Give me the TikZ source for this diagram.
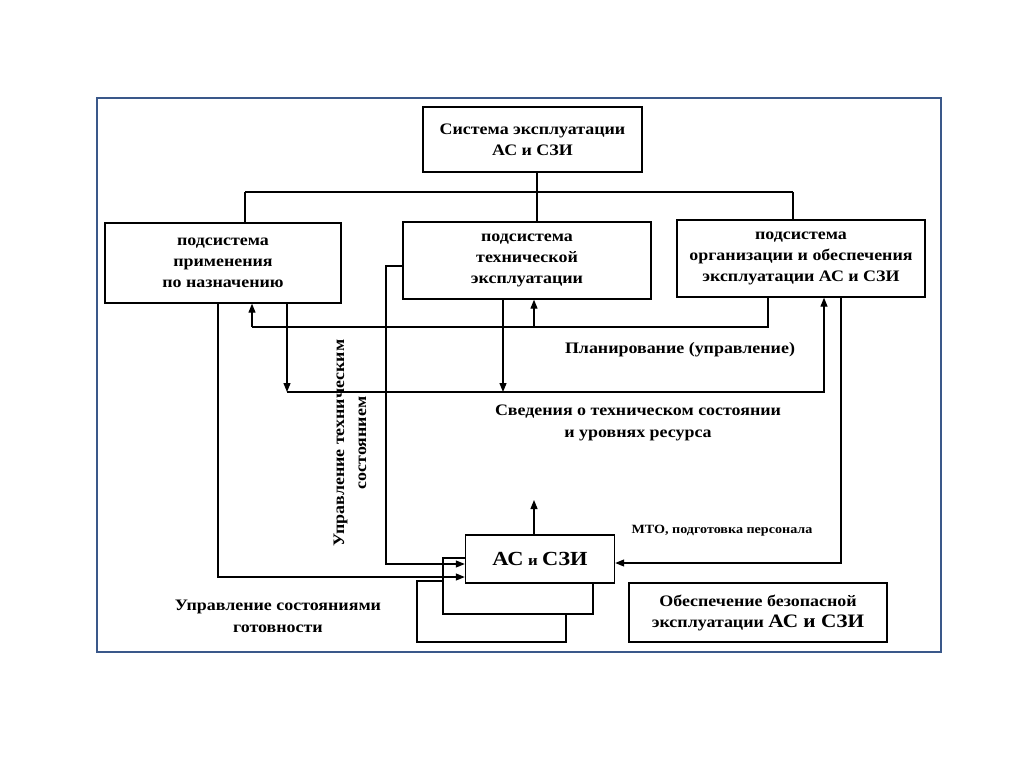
\documentclass[tikz,border=0pt]{standalone}
\usepackage{fontspec}
\setmainfont{Liberation Serif}[FakeStretch=1.12]
\usetikzlibrary{arrows.meta}
\definecolor{framec}{RGB}{58,88,138}
\tikzset{
  box/.style={draw=black,line width=1.4pt,fill=white,inner sep=0pt,align=center,font=\bfseries\fontsize{16}{21}\selectfont},
  lbl/.style={align=center,inner sep=0pt,font=\bfseries\fontsize{16}{22}\selectfont},
  con/.style={line width=1.2pt},
  arr/.style={line width=1.2pt,-{Triangle[length=9pt,width=7pt]}}
}
\begin{document}
\begin{tikzpicture}[x=1pt,y=-1pt]
\useasboundingbox (0,0) rectangle (1024,767);
\fill[white] (0,0) rectangle (1024,767);
\draw[framec,line width=2.6pt] (97,98) rectangle (941,652);
% boxes
\node[box,minimum width=219pt,minimum height=65pt] (top) at (532.5,139.5) {Система эксплуатации\\АС и СЗИ};
\node[box,minimum width=236pt,minimum height=80pt] (b1) at (223,263) {подсистема\\применения\\по назначению};
\node[box,minimum width=248pt,minimum height=77pt] (b2) at (527,260.5) {подсистема\\технической\\эксплуатации};
\node[box,minimum width=248pt,minimum height=77pt] (b3) at (801,258.5) {подсистема\\организации и обеспечения\\эксплуатации АС и СЗИ};
\node[box,minimum width=149pt,minimum height=61pt] (st3) at (491.5,611.5) {};
\node[box,minimum width=150pt,minimum height=56pt] (st2) at (518,586) {};
\node[box,minimum width=149pt,minimum height=48pt] (as) at (540,559) {{\fontsize{20}{22}\selectfont АС} {\fontsize{15}{17}\selectfont и} {\fontsize{20}{22}\selectfont СЗИ}};
\node[box,minimum width=258pt,minimum height=59pt] (safe) at (758,612.5) {Обеспечение безопасной\\эксплуатации {\fontsize{19}{21}\selectfont АС и СЗИ}};
% tree
\coordinate (jt) at (537,192);
\coordinate (j1) at (245,192);
\coordinate (j3) at (793,192);
\draw[con] (top.south -| jt) -- (jt);
\draw[con] (j1) -- (j3);
\draw[con] (j1) -- (j1 |- b1.north);
\draw[con] (jt) -- (jt |- b2.north);
\draw[con] (j3) -- (j3 |- b3.north);
% planning
\coordinate (p3) at (768,327);
\coordinate (p1) at (252,327);
\coordinate (p2) at (534,327);
\draw[con] (p3 |- b3.south) -- (p3) -- (p1);
\draw[arr] (p1) -- (p1 |- b1.south);
\draw[arr] (p2) -- (p2 |- b2.south);
% info
\coordinate (s1) at (287,392);
\coordinate (s2) at (503,392);
\coordinate (s3) at (824,392);
\draw[arr] (s1 |- b1.south) -- (s1);
\draw[arr] (s2 |- b2.south) -- (s2);
\draw[arr] (s1) -- (s3) -- (s3 |- b3.south);
% to AS
\coordinate (m3) at (841,563);
\draw[arr] (m3 |- b3.south) -- (m3) -- (m3 -| as.east);
\coordinate (g1) at (218,577);
\draw[arr] (g1 |- b1.south) -- (g1) -- (g1 -| as.west);
\coordinate (t1) at (386,266);
\coordinate (t2) at (386,564);
\draw[arr] (b2.west |- t1) -- (t1) -- (t2) -- (t2 -| as.west);
\coordinate (up) at (534,500);
\draw[arr] (as.north -| up) -- (up);
% labels
\node[lbl] (lplan) at (680,350) {Планирование (управление)};
\node[lbl] (linfo) at (638,423) {Сведения о техническом состоянии\\и уровнях ресурса};
\node[lbl,font=\bfseries\fontsize{12.6}{14}\selectfont] (lmto) at (722,531) {МТО, подготовка персонала};
\node[lbl,rotate=90] (lrot) at (350,443) {Управление техническим\\состоянием};
\node[lbl] (lgot) at (278,616) {Управление состояниями\\готовности};
\end{tikzpicture}
\end{document}
